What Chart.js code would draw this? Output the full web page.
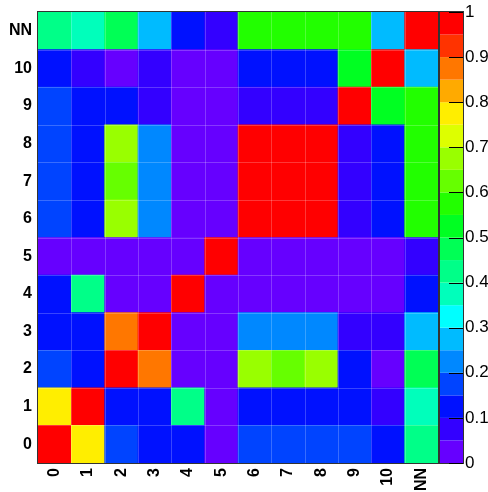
<!DOCTYPE html>
<html>
<head>
<meta charset="utf-8">
<script src="https://cdn.jsdelivr.net/npm/chart.js@4/dist/chart.umd.min.js"></script>
<style>
  body { margin: 0; background: #fff; }
  canvas { display: block; }
</style>
</head>
<body>
<canvas id="corr" width="488" height="492"></canvas>
<script>
// variable names on both axes
const varLabels = ['0', '1', '2', '3', '4', '5', '6', '7', '8', '9', '10', 'NN'];

// correlation coefficients, one row per variable (row 0 at the bottom)
const row0  = [1.00, 0.77, 0.17, 0.12, 0.12, 0.02, 0.17, 0.17, 0.17, 0.17, 0.12, 0.42];
const row1  = [0.77, 1.00, 0.12, 0.12, 0.42, 0.02, 0.12, 0.12, 0.12, 0.12, 0.07, 0.37];
const row2  = [0.17, 0.12, 1.00, 0.87, 0.02, 0.02, 0.67, 0.62, 0.67, 0.12, 0.02, 0.47];
const row3  = [0.12, 0.12, 0.87, 1.00, 0.02, 0.02, 0.22, 0.22, 0.22, 0.07, 0.07, 0.27];
const row4  = [0.12, 0.42, 0.02, 0.02, 1.00, 0.02, 0.02, 0.02, 0.02, 0.02, 0.02, 0.12];
const row5  = [0.02, 0.02, 0.02, 0.02, 0.02, 1.00, 0.02, 0.02, 0.02, 0.02, 0.02, 0.07];
const row6  = [0.17, 0.12, 0.67, 0.22, 0.02, 0.02, 1.00, 1.00, 1.00, 0.07, 0.12, 0.57];
const row7  = [0.17, 0.12, 0.62, 0.22, 0.02, 0.02, 1.00, 1.00, 1.00, 0.07, 0.12, 0.57];
const row8  = [0.17, 0.12, 0.67, 0.22, 0.02, 0.02, 1.00, 1.00, 1.00, 0.07, 0.12, 0.57];
const row9  = [0.17, 0.12, 0.12, 0.07, 0.02, 0.02, 0.07, 0.07, 0.07, 1.00, 0.52, 0.57];
const row10 = [0.12, 0.07, 0.02, 0.07, 0.02, 0.02, 0.12, 0.12, 0.12, 0.52, 1.00, 0.27];
const rowNN = [0.42, 0.37, 0.47, 0.27, 0.12, 0.07, 0.57, 0.57, 0.57, 0.57, 0.27, 1.00];
const rows = [row0, row1, row2, row3, row4, row5, row6, row7, row8, row9, row10, rowNN];

// 20 contour levels from 0 to 1, low to high
const palette = [
  '#6600ff', '#3300ff', '#0011ff', '#0044ff', '#0088ff',
  '#00bbff', '#00ffff', '#00ffbb', '#00ff88', '#00ff55',
  '#00ff22', '#22ff00', '#66ff00', '#99ff00', '#ddff00',
  '#ffee00', '#ffaa00', '#ff7700', '#ff3300', '#ff0000'
];
const zTicks = [0, 0.1, 0.2, 0.3, 0.4, 0.5, 0.6, 0.7, 0.8, 0.9, 1];

function colorFor(v) {
  const i = Math.min(palette.length - 1, Math.floor(v * palette.length + 1e-9));
  return palette[Math.max(0, i)];
}

const FONT = '"Liberation Sans", Arial, Helvetica, sans-serif';

// each row is a set of floating bars spanning [r, r+1]
const datasets = rows.map((vals, r) => ({
  label: varLabels[r],
  data: vals.map(() => [r, r + 1]),
  backgroundColor: vals.map(colorFor),
  borderWidth: 0,
  barPercentage: 1,
  categoryPercentage: 1,
  grouped: false
}));

// keep label overhang from shrinking the plot area
function noPadding(s) {
  s.paddingTop = 0; s.paddingBottom = 0;
  s.paddingLeft = 0; s.paddingRight = 0;
}

const frameAndPalette = {
  id: 'frameAndPalette',
  afterDatasetsDraw(chart) {
    const { ctx, chartArea: a, scales } = chart;
    const x = scales.x, y = scales.y;
    ctx.save();
    // faint cell borders
    ctx.strokeStyle = 'rgba(255,255,255,0.22)';
    ctx.lineWidth = 1;
    ctx.beginPath();
    for (let k = 1; k < varLabels.length; k++) {
      const px = Math.round(x.getPixelForValue(k - 0.5)) + 0.5;
      ctx.moveTo(px, a.top);
      ctx.lineTo(px, a.bottom);
      const py = Math.round(y.getPixelForValue(k)) + 0.5;
      ctx.moveTo(a.left, py);
      ctx.lineTo(a.right, py);
    }
    ctx.stroke();
    // frame
    ctx.strokeStyle = '#333';
    ctx.strokeRect(Math.round(a.left) - 0.5, Math.round(a.top) - 0.5,
                   Math.round(a.right - a.left) + 1, Math.round(a.bottom - a.top) + 1);
    ctx.restore();
  },
  afterDraw(chart) {
    const { ctx, chartArea: a } = chart;
    const z = chart.scales.z;
    const x0 = a.right + 2, w = 23;
    ctx.save();
    palette.forEach((c, i) => {
      const yTop = z.getPixelForValue((i + 1) / palette.length);
      const yBot = z.getPixelForValue(i / palette.length);
      ctx.fillStyle = c;
      ctx.fillRect(x0, yTop, w, yBot - yTop);
    });
    ctx.strokeStyle = '#333';
    ctx.lineWidth = 1;
    ctx.strokeRect(x0 - 0.5, Math.round(a.top) - 0.5, w + 1, Math.round(a.bottom - a.top) + 1);
    ctx.strokeStyle = '#000';
    ctx.beginPath();
    zTicks.forEach(t => {
      const py = Math.round(z.getPixelForValue(t)) + 0.5;
      ctx.moveTo(x0 + w - 14, py);
      ctx.lineTo(x0 + w, py);
    });
    ctx.stroke();
    ctx.restore();
  }
};

new Chart(document.getElementById('corr'), {
  type: 'bar',
  data: { labels: varLabels, datasets },
  options: {
    responsive: false,
    animation: false,
    layout: { padding: { top: 12, left: 0, right: 0, bottom: 0 } },
    plugins: { legend: { display: false }, tooltip: { enabled: false } },
    scales: {
      x: {
        offset: true,
        grid: { display: false, drawTicks: false },
        border: { display: false },
        ticks: {
          autoSkip: false, minRotation: 90, maxRotation: 90, padding: 5,
          color: '#000', font: { family: FONT, size: 16, weight: 'bold' }
        },
        afterFit(s) { s.height = 29; noPadding(s); }
      },
      y: {
        min: 0, max: varLabels.length,
        grid: { display: false, drawTicks: false },
        border: { display: false },
        afterBuildTicks(s) { s.ticks = varLabels.map((_, i) => ({ value: i + 0.5 })); },
        ticks: {
          padding: 6, color: '#000',
          font: { family: FONT, size: 16, weight: 'bold' },
          callback: (v) => varLabels[Math.floor(v)]
        },
        afterFit(s) { s.width = 38; noPadding(s); }
      },
      z: {
        position: 'right',
        min: 0, max: 1,
        grid: { display: false, drawTicks: false },
        border: { display: false },
        afterBuildTicks(s) { s.ticks = zTicks.map(v => ({ value: v })); },
        ticks: {
          padding: 27, color: '#000',
          font: { family: FONT, size: 17 },
          callback: (v) => (v === 0 || v === 1) ? String(v) : v.toFixed(1)
        },
        afterFit(s) { s.width = 50; noPadding(s); }
      }
    }
  },
  plugins: [frameAndPalette]
});
</script>
</body>
</html>
